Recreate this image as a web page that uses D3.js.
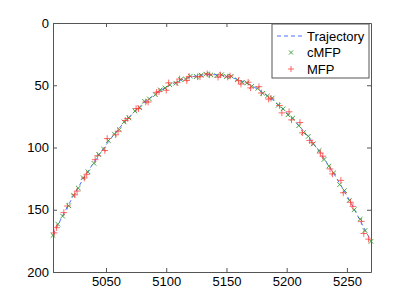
<!DOCTYPE html>
<html>
<head>
<meta charset="utf-8">
<script src="https://cdn.jsdelivr.net/npm/d3@7"></script>
<style>
  body { margin: 0; background: #fff; }
  svg { display: block; font-family: "Liberation Sans", Arial, sans-serif; }
</style>
</head>
<body>
<svg width="409" height="307"></svg>
<script>
// sample positions (x) shared by trajectory and cMFP
const xs = [5006, 5010, 5014, 5019, 5023, 5027, 5031, 5035, 5040, 5044, 5048, 5052, 5057, 5061, 5065, 5069, 5074, 5078, 5082, 5086,
  5091, 5095, 5099, 5103, 5108, 5112, 5116, 5120, 5125, 5129, 5133, 5137, 5142, 5146, 5150, 5154, 5159, 5163, 5167, 5171,
  5176, 5180, 5184, 5188, 5193, 5197, 5201, 5205, 5210, 5214, 5218, 5222, 5227, 5231, 5235, 5239, 5244, 5248, 5252, 5256,
  5261, 5265, 5270]
const trajY = [170.1, 162.4, 154.8, 145.8, 138.8, 132.0, 125.5, 119.3, 111.8, 106.1, 100.6, 95.4, 89.2, 84.5, 80.0, 75.8, 70.9, 67.3, 63.9, 60.7,
  57.0, 54.4, 52.0, 49.9, 47.5, 45.9, 44.6, 43.5, 42.4, 41.8, 41.5, 41.4, 41.6, 42.1, 42.8, 43.7, 45.2, 46.7, 48.4, 50.4,
  53.2, 55.7, 58.5, 61.4, 65.5, 69.1, 72.9, 76.9, 82.2, 86.8, 91.6, 96.7, 103.3, 108.9, 114.7, 120.8, 128.8, 135.4, 142.2, 149.4,
  158.6, 166.2, 175.0]
const cmfpY = [170.6, 161.6, 155.1, 146.8, 138.3, 132.6, 124.3, 119.5, 112.7, 105.7, 101.3, 94.5, 89.3, 85.6, 79.4, 76.2, 70.7, 68.1, 62.9, 61.0,
  57.6, 53.7, 52.2, 49.6, 48.4, 45.4, 45.0, 42.7, 43.0, 41.9, 41.1, 41.7, 42.3, 41.5, 43.0, 42.8, 45.7, 47.7, 48.1, 50.8,
  52.5, 56.5, 58.6, 60.3, 66.1, 68.9, 73.8, 76.4, 82.5, 88.0, 91.0, 97.1, 102.4, 109.6, 114.9, 120.4, 129.8, 134.6, 142.5, 150.0,
  157.6, 166.7, 175.4]
const mfpX = [5007, 5009, 5015, 5018, 5024, 5026, 5032, 5034, 5041, 5043, 5049, 5051, 5058, 5060, 5066, 5068, 5075, 5077, 5083, 5085,
  5092, 5094, 5100, 5102, 5109, 5111, 5117, 5119, 5126, 5128, 5134, 5136, 5143, 5145, 5151, 5153, 5160, 5162, 5168, 5170,
  5177, 5179, 5185, 5187, 5194, 5196, 5202, 5204, 5211, 5213, 5219, 5221, 5228, 5230, 5236, 5238, 5245, 5247, 5253, 5255,
  5262, 5264, 5268]
const mfpY = [168.6, 164.4, 152.3, 147.0, 138.0, 135.0, 124.5, 121.5, 109.8, 106.6, 102.4, 92.8, 89.8, 86.9, 78.3, 76.7, 68.7, 68.8, 63.4, 63.5,
  55.7, 55.1, 54.0, 48.1, 47.9, 45.0, 46.2, 42.9, 43.2, 43.2, 40.8, 41.7, 43.5, 41.7, 43.4, 42.5, 46.3, 49.0, 47.6, 52.1,
  51.2, 56.2, 61.1, 60.4, 66.3, 72.2, 71.3, 77.8, 79.9, 88.2, 94.3, 96.1, 104.5, 107.0, 117.2, 121.2, 126.4, 136.4, 144.0, 147.3,
  159.3, 169.1, 173.6]
const xTicks = [5050, 5100, 5150, 5200, 5250]
const yTicks = [0, 50, 100, 150, 200]
const legendNames = ['Trajectory', 'cMFP', 'MFP']

let svg = d3.select('svg'),
  mLeft = 53, mRight = 371, mTop = 23, mBottom = 272

let x = d3.scaleLinear().domain([5006, 5270]).range([mLeft, mRight]),
  y = d3.scaleLinear().domain([0, 200]).range([mTop, mBottom])

const axisColor = '#555'

// box and ticks
function styleAxis(g) {
  g.selectAll('path, line').attr('stroke', axisColor)
  g.selectAll('text').attr('fill', '#000').attr('font-size', 13)
  g.attr('font-family', null)
}
svg.append('g').attr('transform', 'translate(0,' + mBottom + ')')
  .call(d3.axisBottom(x).tickValues(xTicks).tickFormat(d3.format('d')).tickSizeInner(-4).tickSizeOuter(0).tickPadding(5))
  .call(styleAxis)
svg.append('g').attr('transform', 'translate(0,' + mTop + ')')
  .call(d3.axisTop(x).tickValues(xTicks).tickSizeInner(-4).tickSizeOuter(0).tickFormat(''))
  .call(styleAxis)
svg.append('g').attr('transform', 'translate(' + mLeft + ',0)')
  .call(d3.axisLeft(y).tickValues(yTicks).tickFormat(d3.format('d')).tickSizeInner(-4).tickSizeOuter(0).tickPadding(4))
  .call(styleAxis)
svg.append('g').attr('transform', 'translate(' + mRight + ',0)')
  .call(d3.axisRight(y).tickValues(yTicks).tickSizeInner(-4).tickSizeOuter(0).tickFormat(''))
  .call(styleAxis)

const blue = '#4f6fff', green = '#2f9a2f', red = '#ff3b3b'

// trajectory
svg.append('path')
  .datum(xs.map((v, i) => [v, trajY[i]]))
  .attr('fill', 'none').attr('stroke', blue).attr('stroke-width', 1)
  .attr('stroke-dasharray', '4,3')
  .attr('d', d3.line().x(d => x(d[0])).y(d => y(d[1])))

function cross(g, cx, cy, s, color) {
  g.append('path')
    .attr('d', `M${cx - s},${cy - s}L${cx + s},${cy + s}M${cx - s},${cy + s}L${cx + s},${cy - s}`)
    .attr('stroke', color).attr('stroke-width', 0.9).attr('fill', 'none')
}
function plus(g, cx, cy, s, color) {
  g.append('path')
    .attr('d', `M${cx - s},${cy}L${cx + s},${cy}M${cx},${cy - s}L${cx},${cy + s}`)
    .attr('stroke', color).attr('stroke-width', 0.9).attr('fill', 'none').attr('opacity', 0.85)
}

let gc = svg.append('g')
xs.forEach((v, i) => cross(gc, x(v), y(cmfpY[i]), 2.3, green))
let gm = svg.append('g')
mfpX.forEach((v, i) => plus(gm, x(v), y(mfpY[i]), 3.3, red))

// legend
let lg = svg.append('g')
lg.append('rect').attr('x', 272).attr('y', 24).attr('width', 97).attr('height', 54)
  .attr('fill', '#fff').attr('stroke', axisColor).attr('stroke-width', 1)
const rowY = [36, 52.5, 69]
lg.append('line').attr('x1', 277).attr('x2', 305).attr('y1', rowY[0]).attr('y2', rowY[0])
  .attr('stroke', blue).attr('stroke-dasharray', '4,3')
cross(lg, 291, rowY[1], 2, green)
plus(lg, 291, rowY[2], 3, red)
lg.selectAll('text').data(legendNames).enter().append('text')
  .attr('x', 307).attr('y', (d, i) => rowY[i]).attr('dy', '0.36em')
  .attr('font-size', 13).text(d => d)
</script>
</body>
</html>
